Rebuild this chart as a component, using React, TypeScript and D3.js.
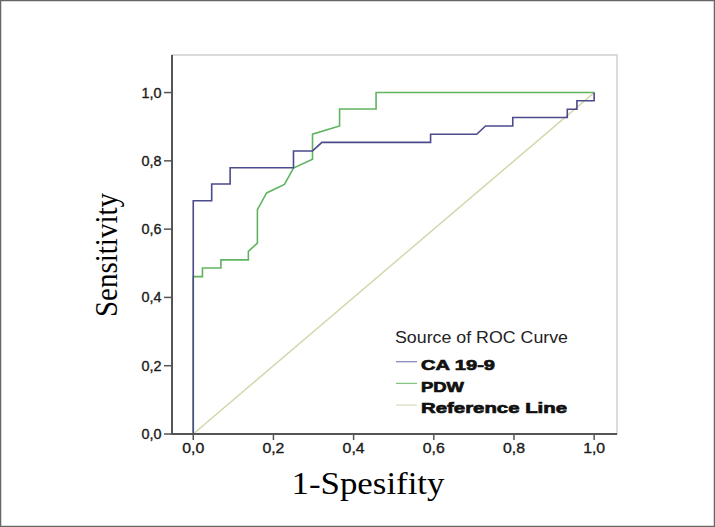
import React from "react";
import * as d3 from "d3";

const W = 715;
const H = 527;

const tickValues = [0, 0.2, 0.4, 0.6, 0.8, 1.0];
const tickLabels = ["0,0", "0,2", "0,4", "0,6", "0,8", "1,0"];

const caFpr = [0, 0, 0.046, 0.046, 0.092, 0.092, 0.25, 0.25, 0.2975, 0.321, 0.592, 0.592, 0.707, 0.729, 0.797, 0.797, 0.933, 0.933, 0.957, 0.957, 1.0, 1.0];
const caTpr = [0, 0.683, 0.683, 0.732, 0.732, 0.78, 0.78, 0.829, 0.829, 0.854, 0.854, 0.878, 0.878, 0.902, 0.902, 0.927, 0.927, 0.951, 0.951, 0.976, 0.976, 1.0];

const pdwFpr = [0, 0, 0.023, 0.023, 0.069, 0.069, 0.1375, 0.1375, 0.16, 0.16, 0.183, 0.2275, 0.25, 0.2975, 0.2975, 0.365, 0.365, 0.456, 0.456, 1.0];
const pdwTpr = [0, 0.461, 0.461, 0.486, 0.486, 0.51, 0.51, 0.535, 0.559, 0.657, 0.706, 0.731, 0.779, 0.805, 0.878, 0.902, 0.952, 0.952, 1.0, 1.0];

const refFpr = [0, 1];
const refTpr = [0, 1];

const seriesNames = ["CA 19-9", "PDW", "Reference Line"];
const seriesColors = ["#4b4a8c", "#5fb45f", "#d6d6ae"];
const swatchColors = ["#8a89b8", "#86c486", "#dedec0"];
const legendWidths = [74, 43, 146];

export default function App() {
  const x = d3.scaleLinear().domain([-0.053, 1.057]).range([172, 617]);
  const y = d3.scaleLinear().domain([0, 1.11]).range([434, 55]);

  const line = d3
    .line<[number, number]>()
    .x((d) => x(d[0]))
    .y((d) => y(d[1]));

  const toPts = (a: number[], b: number[]) => a.map((v, i) => [v, b[i]] as [number, number]);
  const series = [toPts(caFpr, caTpr), toPts(pdwFpr, pdwTpr), toPts(refFpr, refTpr)];

  const sans = "'Liberation Sans', Arial, sans-serif";
  const serif = "'Liberation Serif', 'Times New Roman', serif";

  return (
    <svg
      width={W}
      height={H}
      style={{ position: "absolute", left: 0, top: 0, background: "#fff" }}
    >
      <rect x={0.5} y={0.5} width={W - 1} height={H - 1} fill="#fff" stroke="#666" strokeWidth={1.5} />
      {/* plot frame */}
      <rect x={172} y={55} width={445} height={379} fill="#fff" stroke="#cfcfcf" strokeWidth={1.5} />
      {/* reference, then PDW, then CA */}
      <path d={line(series[2]) || ""} fill="none" stroke={seriesColors[2]} strokeWidth={1.5} />
      <path d={line(series[1]) || ""} fill="none" stroke={seriesColors[1]} strokeWidth={1.6} />
      <path d={line(series[0]) || ""} fill="none" stroke={seriesColors[0]} strokeWidth={1.6} />
      {/* axes */}
      <line x1={172} x2={172} y1={55} y2={434} stroke="#555" strokeWidth={2} />
      <line x1={171} x2={617} y1={434} y2={434} stroke="#555" strokeWidth={2} />
      {tickValues.map((v, i) => (
        <g key={"y" + i}>
          <line x1={164} x2={172} y1={y(v)} y2={y(v)} stroke="#555" strokeWidth={1.5} />
          <text
            x={161.5}
            y={y(v) + 5}
            textAnchor="end"
            fontFamily={sans}
            fontSize={14.5}
            fill="#1a1a1a"
            stroke="#1a1a1a"
            strokeWidth={0.35}
            textLength={20}
            lengthAdjust="spacingAndGlyphs"
          >
            {tickLabels[i]}
          </text>
        </g>
      ))}
      {tickValues.map((v, i) => (
        <g key={"x" + i}>
          <line x1={x(v)} x2={x(v)} y1={434} y2={440} stroke="#555" strokeWidth={1.5} />
          <text
            x={x(v)}
            y={453}
            textAnchor="middle"
            fontFamily={sans}
            fontSize={14.5}
            fill="#1a1a1a"
            stroke="#1a1a1a"
            strokeWidth={0.35}
            textLength={22}
            lengthAdjust="spacingAndGlyphs"
          >
            {tickLabels[i]}
          </text>
        </g>
      ))}
      {/* titles */}
      <text
        x={368}
        y={494}
        textAnchor="middle"
        fontFamily={serif}
        fontSize={31}
        fill="#000"
        textLength={153}
        lengthAdjust="spacingAndGlyphs"
      >
        1-Spesifity
      </text>
      <text
        transform="translate(117,255) rotate(-90)"
        textAnchor="middle"
        fontFamily={serif}
        fontSize={31}
        fill="#000"
        textLength={124}
        lengthAdjust="spacingAndGlyphs"
      >
        Sensitivity
      </text>
      {/* legend */}
      <text
        x={395}
        y={343}
        fontFamily={sans}
        fontSize={16}
        fill="#222"
        textLength={173}
        lengthAdjust="spacingAndGlyphs"
      >
        Source of ROC Curve
      </text>
      {seriesNames.map((n, i) => (
        <g key={n}>
          <line x1={396} x2={417} y1={361.7 + i * 21.7} y2={361.7 + i * 21.7} stroke={swatchColors[i]} strokeWidth={1.3} />
          <text
            x={421}
            y={370 + i * 21.7}
            fontFamily={sans}
            fontWeight="bold"
            fontSize={15}
            fill="#111"
            stroke="#111"
            strokeWidth={0.7}
            textLength={legendWidths[i]}
            lengthAdjust="spacingAndGlyphs"
          >
            {n}
          </text>
        </g>
      ))}
    </svg>
  );
}
